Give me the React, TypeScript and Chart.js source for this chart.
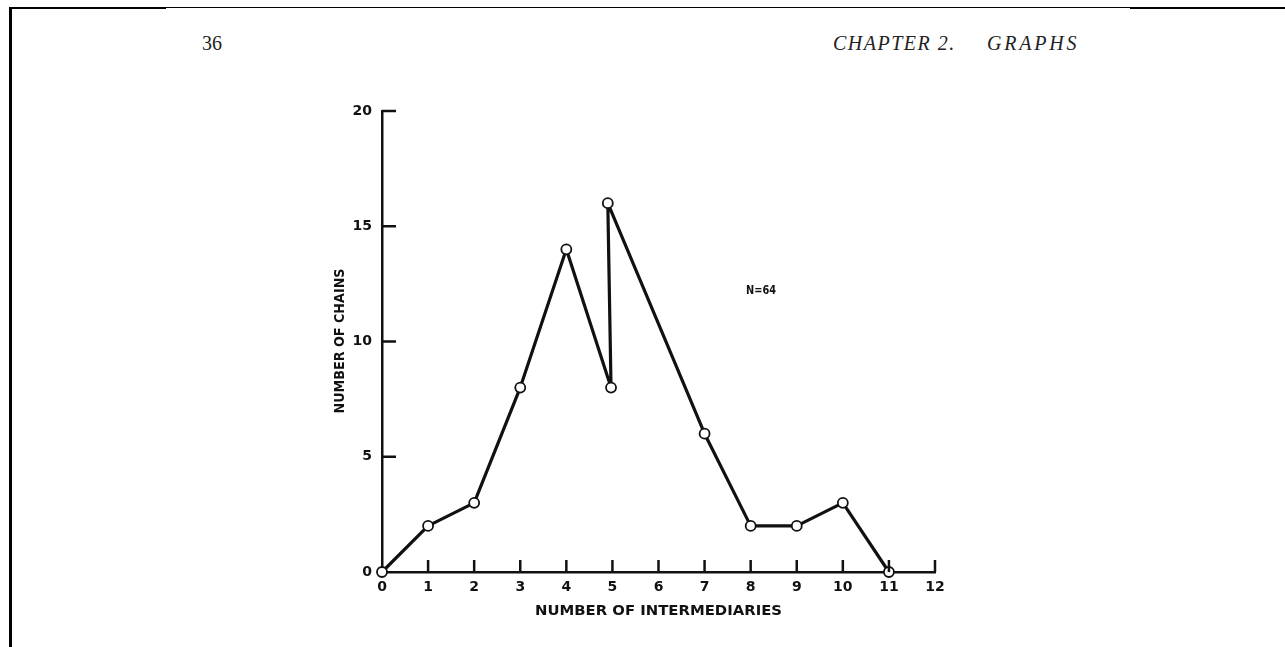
import React, { useEffect, useRef } from "react";
import { Chart, registerables } from "chart.js";

Chart.register(...registerables);

// Number of intermediaries (x) and number of chains (y)
const intermediaries = [0, 1, 2, 3, 4, 4.97, 4.9, 7, 8, 9, 10, 11];
const chainCounts = [0, 2, 3, 8, 14, 8, 16, 6, 2, 2, 3, 0];
const yTickValues = [0, 5, 10, 15, 20];
const xTickValues = [0, 1, 2, 3, 4, 5, 6, 7, 8, 9, 10, 11, 12];

const xTitle = "NUMBER OF INTERMEDIARIES";
const yTitle = "NUMBER OF CHAINS";
const annotation = "N=64";

const INK = "#111";

function fitText(
  ctx: CanvasRenderingContext2D,
  text: string,
  x: number,
  y: number,
  width: number,
  font: string,
  angle = 0
) {
  ctx.save();
  ctx.font = font;
  const w = ctx.measureText(text).width;
  ctx.translate(x, y);
  ctx.rotate(angle);
  ctx.scale(width / w, 1);
  ctx.textAlign = "center";
  ctx.textBaseline = "middle";
  ctx.fillStyle = INK;
  ctx.fillText(text, 0, 0);
  ctx.restore();
}

const decorPlugin = {
  id: "decor",
  afterDraw(chart: any) {
    const ctx: CanvasRenderingContext2D = chart.ctx;
    const xs = chart.scales.x;
    const ys = chart.scales.y;
    const x0 = xs.getPixelForValue(0);
    const y0 = ys.getPixelForValue(0);
    ctx.save();
    ctx.strokeStyle = INK;
    ctx.lineWidth = 2.5;
    ctx.lineCap = "butt";
    // inward y ticks
    yTickValues.forEach((v) => {
      if (v === 0) return;
      const py = ys.getPixelForValue(v);
      ctx.beginPath();
      ctx.moveTo(x0, py);
      ctx.lineTo(x0 + 14, py);
      ctx.stroke();
    });
    // upward x ticks
    xTickValues.forEach((v) => {
      if (v === 0) return;
      const px = xs.getPixelForValue(v);
      ctx.beginPath();
      ctx.moveTo(px, y0);
      ctx.lineTo(px, y0 - 12);
      ctx.stroke();
    });
    ctx.restore();
    const midX = (xs.getPixelForValue(0) + xs.getPixelForValue(12)) / 2;
    fitText(ctx, xTitle, midX, 611, 247, "bold 14px 'DejaVu Sans'");
    fitText(ctx, yTitle, 340, 341, 145, "bold 14px 'DejaVu Sans'", -Math.PI / 2);
    fitText(ctx, annotation, 761, 291, 30, "bold 12px 'DejaVu Sans'");
  },
};

export default function App() {
  const ref = useRef<HTMLCanvasElement | null>(null);
  useEffect(() => {
    if (!ref.current) return;
    const chart = new Chart(ref.current, {
      type: "line",
      data: {
        datasets: [
          {
            data: intermediaries.map((x, i) => ({ x, y: chainCounts[i] })),
            borderColor: INK,
            borderWidth: 3.2,
            borderJoinStyle: "round",
            tension: 0,
            pointRadius: 5,
            pointBorderWidth: 1.8,
            pointBackgroundColor: "#fff",
            pointBorderColor: INK,
            clip: false as any,
          },
        ],
      },
      options: {
        animation: false,
        responsive: false,
        layout: { padding: { left: 342, right: 350, top: 111, bottom: 35 } },
        plugins: { legend: { display: false }, tooltip: { enabled: false } },
        scales: {
          x: {
            type: "linear",
            min: 0,
            max: 12,
            afterFit: (s: any) => {
              s.height = 40;
            },
            afterBuildTicks: (s: any) => {
              s.ticks = xTickValues.map((v) => ({ value: v }));
            },
            grid: { display: false, drawTicks: false },
            border: { display: true, color: INK, width: 2.5 },
            ticks: {
              padding: 7,
              color: INK,
              font: { family: "'DejaVu Sans'", weight: "bold", size: 14 },
              maxRotation: 0,
              autoSkip: false,
            },
          },
          y: {
            type: "linear",
            min: 0,
            max: 20,
            afterFit: (s: any) => {
              s.width = 40;
            },
            afterBuildTicks: (s: any) => {
              s.ticks = yTickValues.map((v) => ({ value: v }));
            },
            grid: { display: false, drawTicks: false },
            border: { display: true, color: INK, width: 2.5 },
            ticks: {
              padding: 10,
              color: INK,
              font: { family: "'DejaVu Sans'", weight: "bold", size: 14 },
            },
          },
        },
      },
      plugins: [decorPlugin],
    });
    return () => chart.destroy();
  }, []);

  const serif = "'Liberation Serif', 'DejaVu Serif', serif";
  const headerText: React.CSSProperties = {
    position: "absolute",
    top: 31,
    fontFamily: serif,
    fontSize: 20,
    lineHeight: "24px",
    color: "#222",
    whiteSpace: "nowrap",
  };
  return (
    <div
      style={{
        position: "absolute",
        left: 0,
        top: 0,
        width: 1285,
        height: 647,
        background: "#fff",
        overflow: "hidden",
      }}
    >
      {/* page frame lines */}
      <div style={{ position: "absolute", left: 9, top: 7, width: 3, height: 640, background: "#000" }} />
      <div style={{ position: "absolute", left: 9, top: 7, width: 157, height: 2, background: "#000" }} />
      <div style={{ position: "absolute", left: 166, top: 7, width: 964, height: 1, background: "#000" }} />
      <div style={{ position: "absolute", left: 1130, top: 7, width: 155, height: 2, background: "#000" }} />
      {/* running header */}
      <div style={{ ...headerText, left: 202 }}>36</div>
      <div style={{ ...headerText, left: 833, fontStyle: "italic", letterSpacing: 1.5 }}>CHAPTER 2.</div>
      <div style={{ ...headerText, left: 987, fontStyle: "italic", letterSpacing: 2.8 }}>GRAPHS</div>
      <canvas
        ref={ref}
        width={1285}
        height={647}
        style={{ position: "absolute", left: 0, top: 0 }}
      />
    </div>
  );
}
